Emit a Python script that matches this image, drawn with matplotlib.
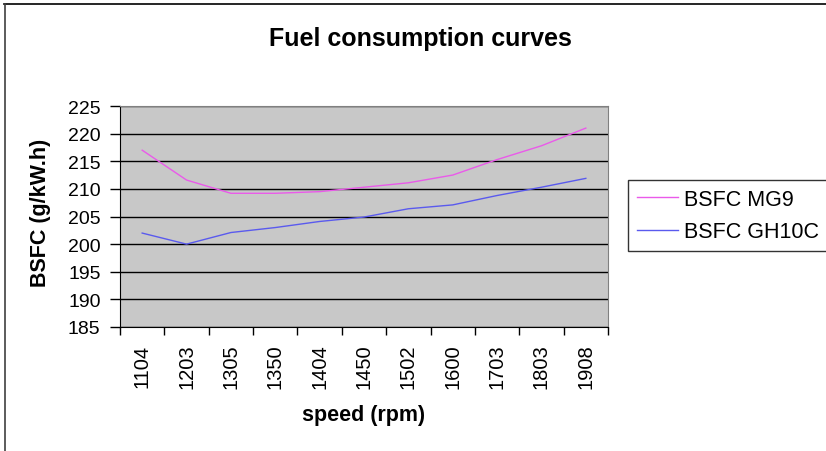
import matplotlib
matplotlib.use('Agg')
import matplotlib.pyplot as plt
from matplotlib.lines import Line2D

plt.rcParams['font.family'] = ['Liberation Sans', 'DejaVu Sans']

# data
speed = ['1104', '1203', '1305', '1350', '1404', '1450', '1502', '1600', '1703', '1803', '1908']
bsfc_mg9 = [217.0, 211.6, 209.2, 209.2, 209.5, 210.3, 211.1, 212.5, 215.3, 217.8, 221.0]
bsfc_gh10c = [202.0, 200.0, 202.1, 203.0, 204.1, 204.9, 206.4, 207.1, 208.8, 210.3, 211.9]

fig = plt.figure(figsize=(8.26, 4.52), dpi=100)
ax = fig.add_axes([120/826, 1-328/452, 488/826, 221/452])
ax.set_facecolor('#c8c8c8')

x = list(range(len(speed)))
ax.plot(x, bsfc_mg9, color='#ea5aea', lw=1.0, label='BSFC MG9')
ax.plot(x, bsfc_gh10c, color='#5a5aee', lw=1.0, label='BSFC GH10C')

ax.set_xlim(-0.5, len(speed) - 0.5)
ax.set_ylim(185, 225)
ax.set_yticks(range(185, 226, 5))
ax.yaxis.grid(True, color='black', lw=1.0)
ax.set_axisbelow(True)

# excel-style ticks between categories
ax.set_xticks([i - 0.5 for i in range(len(speed) + 1)])
ax.set_xticklabels([])
ax.set_xticks(x, minor=True)
ax.set_xticklabels(speed, minor=True, rotation=90, fontsize=14.5)
ax.tick_params(axis='x', which='minor', length=0, pad=12)
ax.tick_params(axis='x', which='major', length=6, width=1, direction='out', color='black')
ax.tick_params(axis='y', length=7, width=1, direction='out', labelsize=14, pad=7)

for s in ['top', 'right']:
    ax.spines[s].set_color('#808080')
for s in ['left', 'bottom']:
    ax.spines[s].set_color('black')

ax.set_ylabel('BSFC (g/kW.h)', fontsize=15.5, fontweight='bold', va='center')
ax.yaxis.set_label_coords((41 - 120) / 488, 0.52)
ax.set_xlabel('speed (rpm)', fontsize=15.5, fontweight='bold', va='top')
ax.xaxis.set_label_coords(0.5, (328 - 405) / 221)
fig.text(420/826, 1-46/452, 'Fuel consumption curves', ha='center', va='baseline',
         fontsize=18, fontweight='bold')

leg = ax.legend(loc='upper left', bbox_to_anchor=(628/826, 1-181/452),
                bbox_transform=fig.transFigure, frameon=True, fancybox=False,
                fontsize=15.5, handlelength=1.9, handletextpad=0.3,
                borderaxespad=0, borderpad=0.4, labelspacing=0.55)
leg.get_frame().set_edgecolor('black')
leg.get_frame().set_linewidth(1.0)

# outer chart frame (only top and left edges visible)
fig.add_artist(Line2D([4/826, 1], [1-4.5/452, 1-4.5/452], color='black', lw=1.2))
fig.add_artist(Line2D([4.5/826, 4.5/826], [0, 1-4.5/452], color='#404040', lw=1.2))

fig.savefig('out.png', dpi=100)
